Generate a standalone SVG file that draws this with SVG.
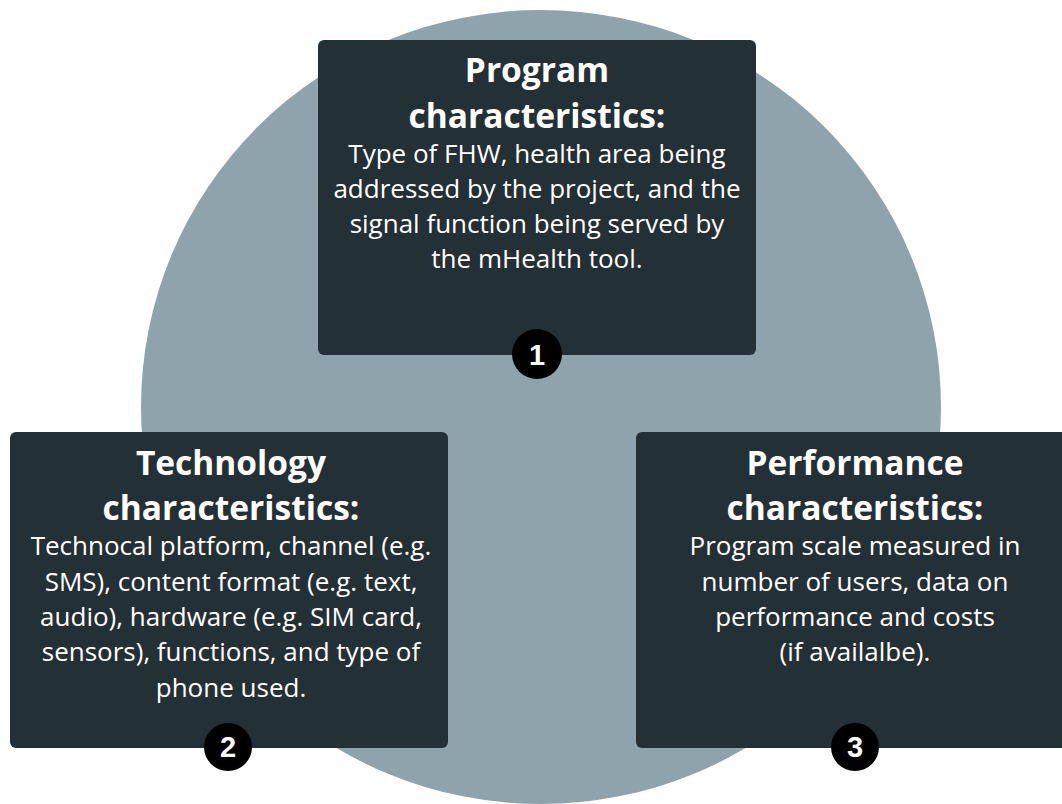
<svg xmlns="http://www.w3.org/2000/svg" width="1062" height="804" viewBox="0 0 1062 804">
<style>
.box{fill:#233036;}
.ttl{font-family:"Open Sans","Liberation Sans",sans-serif;font-weight:bold;font-size:33.5px;fill:#ffffff;text-anchor:middle;}
.bd{font-family:"Open Sans","Liberation Sans",sans-serif;font-size:26px;fill:#ffffff;text-anchor:middle;}
.badge{fill:#000000;}
.num{font-family:"Liberation Sans",Arial,sans-serif;font-weight:bold;font-size:29px;fill:#ffffff;text-anchor:middle;}
</style>
<rect width="1062" height="804" fill="#ffffff"/>
<ellipse id="bg-circle" cx="541" cy="407" rx="400" ry="397" fill="#8fa3ac"/>
<g id="connectors"></g>
<g id="node-program">
<rect class="box" x="318" y="40" width="438" height="315" rx="6"/>
<text class="ttl" x="537" y="82">Program</text>
<text class="ttl" x="537" y="128">characteristics:</text>
<text class="bd" x="537" y="163">Type of FHW, health area being</text>
<text class="bd" x="537" y="198">addressed by the project, and the</text>
<text class="bd" x="537" y="233">signal function being served by</text>
<text class="bd" x="537" y="268">the mHealth tool.</text>
<circle class="badge" cx="537" cy="354" r="25"/>
<text class="num" x="537" y="365">1</text>
</g>
<g id="node-technology">
<rect class="box" x="10" y="432" width="438" height="316" rx="6"/>
<text class="ttl" x="231" y="475">Technology</text>
<text class="ttl" x="231" y="520">characteristics:</text>
<text class="bd" x="231" y="555">Technocal platform, channel (e.g.</text>
<text class="bd" x="231" y="591">SMS), content format (e.g. text,</text>
<text class="bd" x="231" y="626">audio), hardware (e.g. SIM card,</text>
<text class="bd" x="231" y="661">sensors), functions, and type of</text>
<text class="bd" x="231" y="697">phone used.</text>
<circle class="badge" cx="228" cy="747" r="24"/>
<text class="num" x="228" y="757">2</text>
</g>
<g id="node-performance">
<rect class="box" x="636" y="432" width="440" height="316" rx="6"/>
<text class="ttl" x="855" y="475">Performance</text>
<text class="ttl" x="855" y="520">characteristics:</text>
<text class="bd" x="855" y="555">Program scale measured in</text>
<text class="bd" x="855" y="591">number of users, data on</text>
<text class="bd" x="855" y="626">performance and costs</text>
<text class="bd" x="855" y="661">(if availalbe).</text>
<circle class="badge" cx="855" cy="747" r="24"/>
<text class="num" x="855" y="757">3</text>
</g>
</svg>
